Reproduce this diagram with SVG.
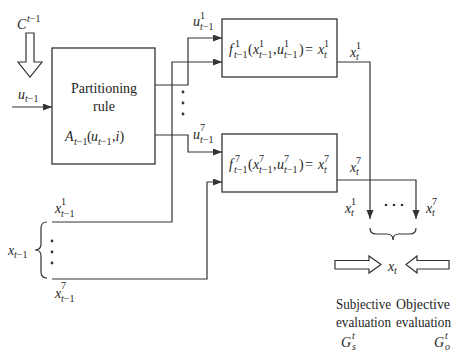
<svg xmlns="http://www.w3.org/2000/svg" width="455" height="354" viewBox="0 0 455 354">
<style>
text{font-family:"Liberation Serif","DejaVu Serif",serif;fill:#1e1e1e;font-size:14px}
.m{font-style:italic}
.s{font-size:10px}
.si{font-size:10px;font-style:italic}
.ln{fill:none;stroke:#333;stroke-width:1.2}
.bx{fill:#fff;stroke:#333;stroke-width:1.3}
.ho{fill:#fff;stroke:#333;stroke-width:1.2}
.dot{fill:#333}
</style>
<defs>
<marker id="ah" markerUnits="userSpaceOnUse" markerWidth="10" markerHeight="8" refX="9" refY="3.5" orient="auto">
<path d="M0,0 L9,3.5 L0,7 z" fill="#333"/>
</marker>
</defs>

<g id="connectors">
<path class="ln" d="M12,107 H52" marker-end="url(#ah)"/>
<path class="ln" d="M155,85 H188 V38 H222" marker-end="url(#ah)"/>
<path class="ln" d="M52,222 H172 V62 H222" marker-end="url(#ah)"/>
<path class="ln" d="M155,135 H188 V152 H222" marker-end="url(#ah)"/>
<path class="ln" d="M52,279 H207 V182 H222" marker-end="url(#ah)"/>
<path class="ln" d="M337,62 H370 V219" marker-end="url(#ah)"/>
<path class="ln" d="M337,180 H416 V219" marker-end="url(#ah)"/>
</g>

<g id="input-C">
<polygon class="ho" points="26,33 34,33 34,62 42,62 30,77 18,62 26,62"/>
<text class="m" x="17" y="29" font-size="15">C</text>
<text class="s" x="27" y="22"><tspan font-style="italic">t</tspan>−1</text>
</g>

<g id="input-u">
<text class="m" x="18" y="99">u</text>
<text class="s" x="25" y="102"><tspan font-style="italic">t</tspan>−1</text>
</g>

<g id="partitioning-rule">
<rect class="bx" x="52" y="48" width="103" height="116"/>
<text x="104" y="93" text-anchor="middle">Partitioning</text>
<text x="104" y="111" text-anchor="middle">rule</text>
<text class="m" x="65" y="141">A</text>
<text class="s" x="74" y="145"><tspan font-style="italic">t</tspan>−1</text>
<text x="87" y="141">(</text>
<text class="m" x="91" y="141">u</text>
<text class="s" x="98" y="145"><tspan font-style="italic">t</tspan>−1</text>
<text x="112" y="141">,<tspan font-style="italic">i</tspan>)</text>
</g>

<g id="label-u1">
<text class="m" x="193" y="26">u</text>
<text class="s" x="200" y="19">1</text>
<text class="s" x="200" y="30"><tspan font-style="italic">t</tspan>−1</text>
</g>
<g id="label-u7">
<text class="m" x="193" y="139">u</text>
<text class="s" x="200" y="131">7</text>
<text class="s" x="200" y="143"><tspan font-style="italic">t</tspan>−1</text>
</g>
<g id="dots-u">
<circle class="dot" cx="183" cy="92" r="1.4"/>
<circle class="dot" cx="183" cy="103" r="1.4"/>
<circle class="dot" cx="183" cy="114" r="1.4"/>
</g>

<g id="f1">
<rect class="bx" x="222" y="19" width="115" height="58"/>
<text class="m" x="229" y="54" font-size="15">f</text>
<text class="s" x="235" y="47">1</text>
<text class="s" x="234" y="58"><tspan font-style="italic">t</tspan>−1</text>
<text x="248" y="54">(</text>
<text class="m" x="253" y="54">x</text>
<text class="s" x="259" y="47">1</text>
<text class="s" x="259" y="58"><tspan font-style="italic">t</tspan>−1</text>
<text x="273" y="54">,</text>
<text class="m" x="277" y="54">u</text>
<text class="s" x="284" y="47">1</text>
<text class="s" x="284" y="58"><tspan font-style="italic">t</tspan>−1</text>
<text x="299" y="54">)</text>
<text x="305" y="54">=</text>
<text class="m" x="318" y="54">x</text>
<text class="s" x="324" y="47">1</text>
<text class="si" x="324" y="58">t</text>
</g>

<g id="f7">
<rect class="bx" x="222" y="134" width="115" height="58"/>
<text class="m" x="229" y="169" font-size="15">f</text>
<text class="s" x="235" y="162">7</text>
<text class="s" x="234" y="173"><tspan font-style="italic">t</tspan>−1</text>
<text x="248" y="169">(</text>
<text class="m" x="253" y="169">x</text>
<text class="s" x="259" y="162">7</text>
<text class="s" x="259" y="173"><tspan font-style="italic">t</tspan>−1</text>
<text x="273" y="169">,</text>
<text class="m" x="277" y="169">u</text>
<text class="s" x="284" y="162">7</text>
<text class="s" x="284" y="173"><tspan font-style="italic">t</tspan>−1</text>
<text x="299" y="169">)</text>
<text x="305" y="169">=</text>
<text class="m" x="318" y="169">x</text>
<text class="s" x="324" y="162">7</text>
<text class="si" x="324" y="173">t</text>
</g>

<g id="label-xt1-out">
<text class="m" x="350" y="57">x</text>
<text class="s" x="356" y="49">1</text>
<text class="si" x="356" y="60">t</text>
</g>
<g id="label-xt7-out">
<text class="m" x="350" y="172">x</text>
<text class="s" x="356" y="164">7</text>
<text class="si" x="356" y="175">t</text>
</g>

<g id="state-prev">
<text class="m" x="8" y="255">x</text>
<text class="s" x="14" y="258"><tspan font-style="italic">t</tspan>−1</text>
<path class="ln" d="M47,222 q-6,0 -6,6 v16 q0,6 -6,6 q6,0 6,6 v16 q0,6 6,6"/>
<circle class="dot" cx="52" cy="241" r="1.4"/>
<circle class="dot" cx="52" cy="252" r="1.4"/>
<circle class="dot" cx="52" cy="263" r="1.4"/>
<text class="m" x="55" y="213">x</text>
<text class="s" x="61" y="205">1</text>
<text class="s" x="61" y="217"><tspan font-style="italic">t</tspan>−1</text>
<text class="m" x="55" y="298">x</text>
<text class="s" x="61" y="289">7</text>
<text class="s" x="61" y="302"><tspan font-style="italic">t</tspan>−1</text>
</g>

<g id="state-next">
<text class="m" x="345" y="213">x</text>
<text class="s" x="351" y="205">1</text>
<text class="si" x="351" y="216">t</text>
<circle class="dot" cx="386" cy="205" r="1.3"/>
<circle class="dot" cx="394" cy="205" r="1.3"/>
<circle class="dot" cx="402" cy="205" r="1.3"/>
<text class="m" x="426" y="213">x</text>
<text class="s" x="432" y="205">7</text>
<text class="si" x="432" y="216">t</text>
<path class="ln" d="M370,228 q0,6 6,6 h11 q6,0 6,6 q0,-6 6,-6 h11 q6,0 6,-6"/>
<polygon class="ho" points="335,260.5 369,260.5 369,256 381,264.5 369,273 369,269 335,269"/>
<polygon class="ho" points="449,260.5 417,260.5 417,256 406,264.5 417,273 417,269 449,269"/>
<text class="m" x="388" y="271">x</text>
<text class="si" x="394" y="274">t</text>
</g>

<g id="evaluation">
<text x="336" y="309" textLength="55" lengthAdjust="spacingAndGlyphs">Subjective</text>
<text x="396" y="309" textLength="54" lengthAdjust="spacingAndGlyphs">Objective</text>
<text x="336" y="327" textLength="55" lengthAdjust="spacingAndGlyphs">evaluation</text>
<text x="396" y="327" textLength="55" lengthAdjust="spacingAndGlyphs">evaluation</text>
<text class="m" x="341" y="347" font-size="15">G</text>
<text class="si" x="352" y="339">t</text>
<text class="si" x="352" y="350">s</text>
<text class="m" x="434" y="347" font-size="15">G</text>
<text class="si" x="445" y="339">t</text>
<text class="si" x="445" y="350">o</text>
</g>
</svg>
